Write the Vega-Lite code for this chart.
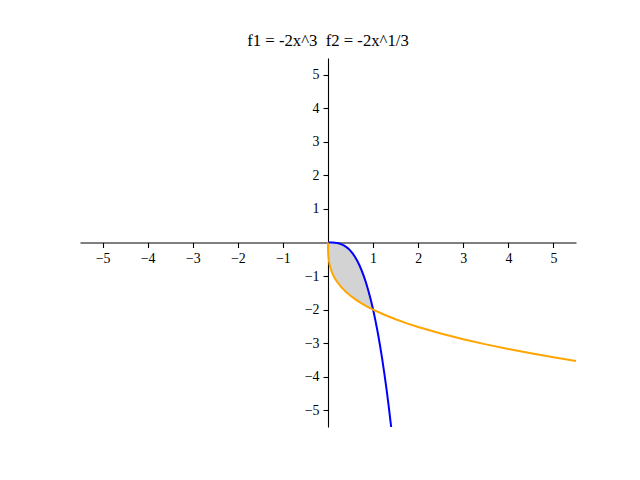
{
  "$schema": "https://vega.github.io/schema/vega-lite/v6.json",
  "autosize": "none",
  "width": 496,
  "height": 369,
  "padding": {"left": 80, "top": 58, "right": 64, "bottom": 53},
  "background": "white",
  "title": {"text": "f1 = -2x^3\u00a0\u00a0f2 = -2x^1/3", "font": "Liberation Serif", "fontSize": 16.7, "fontWeight": "normal", "color": "black", "offset": 8, "anchor": "middle"},
  "config": {
    "font": "Liberation Serif",
    "view": {"stroke": null},
    "axis": {"grid": false, "domainColor": "black", "domainWidth": 1.1, "tickColor": "black", "tickWidth": 1.1, "tickSize": 5, "labelFont": "Liberation Serif", "labelFontSize": 13.9, "labelColor": "black", "labelPadding": 4, "title": null}
  },
  "datasets": {
    "f1": [
      {"x": 0, "y": 0}, {"x": 0.05, "y": -0.00025}, {"x": 0.1, "y": -0.002}, {"x": 0.15, "y": -0.00675},
      {"x": 0.2, "y": -0.016}, {"x": 0.25, "y": -0.03125}, {"x": 0.3, "y": -0.054}, {"x": 0.35, "y": -0.08575},
      {"x": 0.4, "y": -0.128}, {"x": 0.45, "y": -0.18225}, {"x": 0.5, "y": -0.25}, {"x": 0.55, "y": -0.33275},
      {"x": 0.6, "y": -0.432}, {"x": 0.65, "y": -0.54925}, {"x": 0.7, "y": -0.686}, {"x": 0.75, "y": -0.84375},
      {"x": 0.8, "y": -1.024}, {"x": 0.85, "y": -1.22825}, {"x": 0.9, "y": -1.458}, {"x": 0.95, "y": -1.71475},
      {"x": 1.0, "y": -2.0}, {"x": 1.05, "y": -2.31525}, {"x": 1.1, "y": -2.662}, {"x": 1.15, "y": -3.04175},
      {"x": 1.2, "y": -3.456}, {"x": 1.25, "y": -3.90625}, {"x": 1.3, "y": -4.394}, {"x": 1.35, "y": -4.92075},
      {"x": 1.401, "y": -5.5}
    ],
    "f2": [
      {"x": 0, "y": 0}, {"x": 0.001, "y": -0.2}, {"x": 0.005, "y": -0.342}, {"x": 0.01, "y": -0.431},
      {"x": 0.02, "y": -0.543}, {"x": 0.04, "y": -0.684}, {"x": 0.06, "y": -0.783}, {"x": 0.08, "y": -0.862},
      {"x": 0.1, "y": -0.928}, {"x": 0.15, "y": -1.063}, {"x": 0.2, "y": -1.170}, {"x": 0.3, "y": -1.339},
      {"x": 0.4, "y": -1.474}, {"x": 0.5, "y": -1.587}, {"x": 0.6, "y": -1.687}, {"x": 0.7, "y": -1.776},
      {"x": 0.8, "y": -1.857}, {"x": 0.9, "y": -1.931}, {"x": 1.0, "y": -2.0}, {"x": 1.25, "y": -2.154},
      {"x": 1.5, "y": -2.289}, {"x": 1.75, "y": -2.410}, {"x": 2.0, "y": -2.520}, {"x": 2.5, "y": -2.714},
      {"x": 3.0, "y": -2.884}, {"x": 3.5, "y": -3.037}, {"x": 4.0, "y": -3.175}, {"x": 4.5, "y": -3.302},
      {"x": 5.0, "y": -3.420}, {"x": 5.5, "y": -3.530}
    ],
    "fill": [
      {"x": 0, "f1": 0, "f2": 0}, {"x": 0.001, "f1": 0, "f2": -0.2}, {"x": 0.005, "f1": 0, "f2": -0.342},
      {"x": 0.01, "f1": 0, "f2": -0.431}, {"x": 0.02, "f1": -0.00002, "f2": -0.543}, {"x": 0.04, "f1": -0.00013, "f2": -0.684},
      {"x": 0.06, "f1": -0.00043, "f2": -0.783}, {"x": 0.08, "f1": -0.001, "f2": -0.862}, {"x": 0.1, "f1": -0.002, "f2": -0.928},
      {"x": 0.15, "f1": -0.00675, "f2": -1.063}, {"x": 0.2, "f1": -0.016, "f2": -1.170}, {"x": 0.3, "f1": -0.054, "f2": -1.339},
      {"x": 0.4, "f1": -0.128, "f2": -1.474}, {"x": 0.5, "f1": -0.25, "f2": -1.587}, {"x": 0.6, "f1": -0.432, "f2": -1.687},
      {"x": 0.7, "f1": -0.686, "f2": -1.776}, {"x": 0.8, "f1": -1.024, "f2": -1.857}, {"x": 0.9, "f1": -1.458, "f2": -1.931},
      {"x": 1.0, "f1": -2.0, "f2": -2.0}
    ]
  },
  "layer": [
    {
      "data": {"name": "fill"},
      "mark": {"type": "area", "color": "#d3d3d3", "opacity": 1, "clip": true},
      "encoding": {
        "x": {"field": "x", "type": "quantitative", "scale": {"domain": [-5.5, 5.5], "nice": false, "zero": false},
              "axis": {"values": [-5, -4, -3, -2, -1, 1, 2, 3, 4, 5], "offset": -184.5, "orient": "bottom", "labelFont": "Liberation Serif", "labelFontSize": 13.9}},
        "y": {"field": "f1", "type": "quantitative", "scale": {"domain": [-5.5, 5.5], "nice": false, "zero": false},
              "axis": {"values": [-5, -4, -3, -2, -1, 1, 2, 3, 4, 5], "offset": -248, "orient": "left", "labelFont": "Liberation Serif", "labelFontSize": 13.9}},
        "y2": {"field": "f2"}
      }
    },
    {
      "data": {"name": "f1"},
      "mark": {"type": "line", "color": "#0000ff", "strokeWidth": 2, "clip": true},
      "encoding": {
        "x": {"field": "x", "type": "quantitative"},
        "y": {"field": "y", "type": "quantitative"}
      }
    },
    {
      "data": {"name": "f2"},
      "mark": {"type": "line", "color": "#ffa500", "strokeWidth": 2, "clip": true},
      "encoding": {
        "x": {"field": "x", "type": "quantitative"},
        "y": {"field": "y", "type": "quantitative"}
      }
    }
  ]
}
